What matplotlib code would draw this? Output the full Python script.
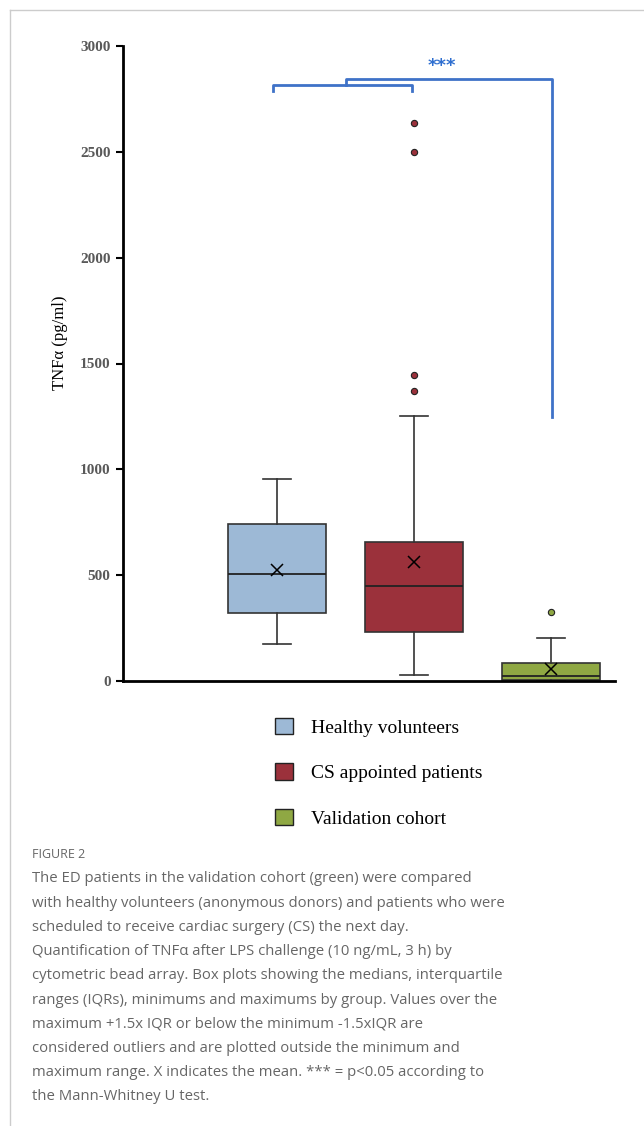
import matplotlib
matplotlib.use("Agg")
import matplotlib.pyplot as plt
from matplotlib.lines import Line2D
from matplotlib.patches import Patch

# data (pg/ml)
groups = ["Healthy volunteers", "CS appointed patients", "Validation cohort"]
medians = [505, 449, 24]
q1s = [323, 230, 5]
q3s = [742, 657, 85]
whis_lo = [175, 28, 0]
whis_hi = [952, 1250, 205]
means = [524, 562, 57]
outliers = [[], [2636, 2497, 1445, 1368], [327]]
colors = ["#9DB9D6", "#9B313B", "#8FA843"]
yticks = [0, 500, 1000, 1500, 2000, 2500, 3000]

caption = [
    "The ED patients in the validation cohort (green) were compared",
    "with healthy volunteers (anonymous donors) and patients who were",
    "scheduled to receive cardiac surgery (CS) the next day.",
    "Quantification of TNF\u03b1 after LPS challenge (10 ng/mL, 3 h) by",
    "cytometric bead array. Box plots showing the medians, interquartile",
    "ranges (IQRs), minimums and maximums by group. Values over the",
    "maximum +1.5x IQR or below the minimum -1.5xIQR are",
    "considered outliers and are plotted outside the minimum and",
    "maximum range. X indicates the mean. *** = p<0.05 according to",
    "the Mann-Whitney U test.",
]

W, H = 644, 1126
fig = plt.figure(figsize=(W / 100, H / 100), dpi=100)
ax = fig.add_axes([123 / W, 1 - 681 / H, (615 - 123) / W, (681 - 46) / H])

stats = []
for i in range(len(groups)):
    stats.append(dict(med=medians[i], q1=q1s[i], q3=q3s[i], whislo=whis_lo[i],
                      whishi=whis_hi[i], mean=means[i], fliers=outliers[i], label=groups[i]))

edge = "#333333"
bp = ax.bxp(stats, positions=[1, 2, 3], widths=0.71, patch_artist=True, showmeans=True,
            capwidths=0.21, manage_ticks=False,
            boxprops=dict(edgecolor=edge, linewidth=1.2),
            medianprops=dict(color="#222222", linewidth=1.3),
            whiskerprops=dict(color=edge, linewidth=1.2),
            capprops=dict(color=edge, linewidth=1.2),
            meanprops=dict(marker="x", markeredgecolor="black", markersize=8, markeredgewidth=1.1),
            flierprops=dict(marker="o", markersize=4.5, markeredgecolor="#222222", markeredgewidth=0.8))
for box, fl, c in zip(bp["boxes"], bp["fliers"], colors):
    box.set_facecolor(c)
    fl.set_markerfacecolor(c)

ax.set_xlim(1 - 154 / 137, 3 + 64 / 137)
ax.set_ylim(0, 3000)
ax.set_yticks(yticks)
ax.set_yticklabels([str(t) for t in yticks], fontfamily="Liberation Serif", fontweight="bold",
                   fontsize=11, color="#595959")
ax.set_xticks([])
ax.tick_params(axis="y", length=5, width=1.5, pad=4)
for s in ["top", "right"]:
    ax.spines[s].set_visible(False)
ax.spines["left"].set_linewidth(2)
ax.spines["bottom"].set_linewidth(2)
ax.patch.set_alpha(0)

# significance brackets
blue = "#3F72C8"
y1, y2, drop = 2816, 2842, 29
ax.plot([0.97, 0.97, 1.985, 1.985], [y1 - drop, y1, y1, y1 - drop], color=blue, lw=2,
        clip_on=False, solid_joinstyle="round")
ax.plot([1.5, 1.5, 3.01, 3.01], [y1, y2, y2, 1247], color=blue, lw=2, clip_on=False)
ax.text(2.2, 2905, "***", color="#2F6FD0", fontsize=13, fontweight="bold", ha="center",
        va="center", fontfamily="DejaVu Sans")

fig.text(60 / W, 1 - 343 / H, "TNF\u03b1 (pg/ml)", rotation=90, ha="center", va="center",
         fontsize=12, fontfamily="Liberation Serif")

handles = [Patch(facecolor=c, edgecolor="#222222", linewidth=1) for c in colors]
fig.legend(handles, groups, loc="upper left", bbox_to_anchor=(275 / W, 1 - 718 / H),
           frameon=False, borderpad=0, borderaxespad=0, handlelength=0.9, handleheight=0.9,
           handletextpad=0.95, labelspacing=1.37,
           prop=dict(family="Liberation Serif", size=14))

# page frame
fig.add_artist(Line2D([9.5 / W, 1], [1 - 9.5 / H, 1 - 9.5 / H], color="#cccccc", lw=1))
fig.add_artist(Line2D([9.5 / W, 9.5 / W], [0, 1 - 9.5 / H], color="#cccccc", lw=1))

fig.text(32 / W, 1 - 855 / H, "FIGURE 2", fontsize=9, color="#666666", va="center",
         fontfamily="Open Sans")
for k, line in enumerate(caption):
    fig.text(32 / W, 1 - (879 + 24.2 * k) / H, line, fontsize=10.7, color="#666666",
             va="center", fontfamily="Open Sans")

fig.savefig("out.png", dpi=100)
